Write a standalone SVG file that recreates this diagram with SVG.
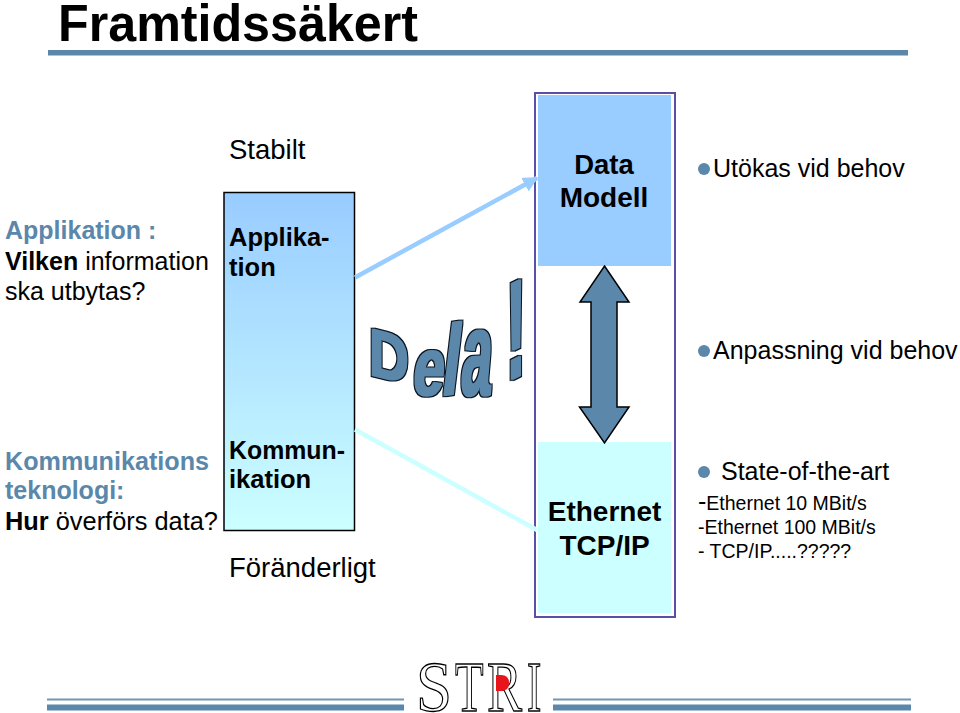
<svg xmlns="http://www.w3.org/2000/svg" width="960" height="713" viewBox="0 0 960 713">
<style>
text{font-family:"Liberation Sans",Arial,sans-serif;fill:#000}
.b{font-weight:bold}
.blue{fill:#5b87ab}
.m{text-anchor:middle}
.s28{font-size:28px}
.s27{font-size:27.5px}
.s25{font-size:25px}
.s255{font-size:25.500px}
.s19{font-size:19.5px}
.bar{fill:#5b87ab}
.thin{fill:#6f96b5}
.dela{font-weight:bold;font-size:100px;fill:#5b87ab}
.stri{font-family:"Liberation Serif",serif;font-size:72px;fill:#fff;stroke:#000;stroke-width:1.200px;vector-effect:non-scaling-stroke}
.dot{fill:#5b87ab}
</style>
<defs>
<linearGradient id="g" x1="0" y1="0" x2="0" y2="1"><stop offset="0" stop-color="#99ccff"/><stop offset="1" stop-color="#ccffff"/></linearGradient>
<marker id="ah" viewBox="0 0 10 10" refX="9" refY="5" markerWidth="3.4" markerHeight="3.4" orient="auto"><path d="M0 0L10 5L0 10Z" fill="#99ccff"/></marker>
<filter id="fat" x="-10%" y="-10%" width="120%" height="120%" filterUnits="objectBoundingBox" color-interpolation-filters="sRGB">
<feMorphology in="SourceAlpha" operator="dilate" radius="2.4" result="o"/>
<feFlood flood-color="#0a1420"/>
<feComposite in2="o" operator="in" result="edge"/>
<feMorphology in="SourceGraphic" operator="dilate" radius="1" result="f"/>
<feMerge><feMergeNode in="edge"/><feMergeNode in="f"/></feMerge>
</filter>
</defs>
<g id="title">
<text class="b" x="58" y="40.500" font-size="52" textLength="360" lengthAdjust="spacingAndGlyphs">Framtidssäkert</text>
<rect class="bar" x="48" y="50" width="860" height="5.500"/>
</g>
<g id="left-labels">
<text class="blue s25 b" x="5" y="239">Applikation :</text>
<text class="s25" x="5" y="270"><tspan class="b">Vilken</tspan> information</text>
<text class="s25" x="5" y="300">ska utbytas?</text>
<text class="blue s25 b" x="5" y="470" textLength="204" lengthAdjust="spacingAndGlyphs">Kommunikations</text>
<text class="blue s25 b" x="5" y="499">teknologi:</text>
<text class="s25" x="5" y="530" textLength="213" lengthAdjust="spacingAndGlyphs"><tspan class="b">Hur</tspan> överförs data?</text>
</g>
<g id="stack">
<rect x="224" y="192.500" width="130.500" height="338" fill="url(#g)" stroke="#000" stroke-width="1.500"/>
<text class="s255 b" x="229" y="246">Applika-</text>
<text class="s255 b" x="229" y="276">tion</text>
<text class="s255 b" x="229" y="459" textLength="116" lengthAdjust="spacingAndGlyphs">Kommun-</text>
<text class="s255 b" x="229" y="488">ikation</text>
</g>
<text class="s27" x="229" y="159">Stabilt</text>
<text class="s27" x="229" y="577">Föränderligt</text>
<g id="right-frame">
<rect x="535" y="93" width="140" height="524" fill="#fff" stroke="#5a4fa8" stroke-width="2"/>
</g>
<g id="data-modell">
<rect x="538" y="95" width="133" height="171" fill="#99ccff"/>
<text class="b m s27" x="604" y="174">Data</text>
<text class="b m s28" x="604" y="207">Modell</text>
</g>
<g id="ethernet">
<rect x="538" y="442" width="133" height="171" fill="#ccffff"/>
<text class="b m s28" x="604.500" y="521">Ethernet</text>
<text class="b m s28" x="604.500" y="555">TCP/IP</text>
</g>
<g id="connectors">
<line x1="355" y1="277.500" x2="537" y2="178" stroke="#99ccff" stroke-width="4.500" marker-end="url(#ah)"/>
<line x1="355" y1="429.500" x2="537" y2="530" stroke="#ccffff" stroke-width="4.500"/>
<path d="M604.500 266L629 302H617V407H629L604.500 443L579.500 407H591V302H580Z" fill="#5b87ab" stroke="#000" stroke-width="1.500"/>
</g>
<g id="dela" filter="url(#fat)">
<text class="dela" transform="matrix(.55 .14 0 .66 369 374)">D</text>
<text class="dela" transform="matrix(.56 0 -.1 .82 411 395)">e</text>
<text class="dela" transform="matrix(.62 -.1 -.12 1 440 396)">l</text>
<text class="dela" transform="matrix(.54 0 -.1 1.2 459.500 395)">a</text>
<text class="dela" transform="matrix(.6 -.3 0 1.38 506 382)">!</text>
</g>
<g id="right-labels">
<circle class="dot" cx="704" cy="169" r="6"/>
<text class="s25" x="713" y="177">Utökas vid behov</text>
<circle class="dot" cx="704" cy="351" r="6"/>
<text class="s25" x="713" y="359">Anpassning vid behov</text>
<circle class="dot" cx="704" cy="472" r="6"/>
<text class="s25" x="721" y="480">State-of-the-art</text>
<text x="698" y="510" style="font-size:25px">-<tspan style="font-size:19.500px">Ethernet 10 MBit/s</tspan></text>
<text class="s19" x="698" y="534">-Ethernet 100 MBit/s</text>
<text class="s19" x="698" y="558">- TCP/IP.....?????</text>
</g>
<g id="footer">
<rect class="thin" x="47" y="698.500" width="357" height="2"/>
<rect class="bar" x="47" y="704.500" width="357" height="6"/>
<rect class="thin" x="553" y="698.500" width="358" height="2"/>
<rect class="bar" x="553" y="704.500" width="358" height="6"/>
<text class="stri" transform="matrix(.9 0 0 1 416 711)">S</text>
<text class="stri" transform="matrix(.65 0 0 1 455 711)">T</text>
<text class="stri" transform="matrix(.73 0 0 1 487 711)">R</text>
<text class="stri" transform="matrix(.6 0 0 1 527 711)">I</text>
<path d="M496 675H501Q509 675 509 683Q509 691 501 691H496Z" fill="#e8141c"/>
</g>
</svg>
